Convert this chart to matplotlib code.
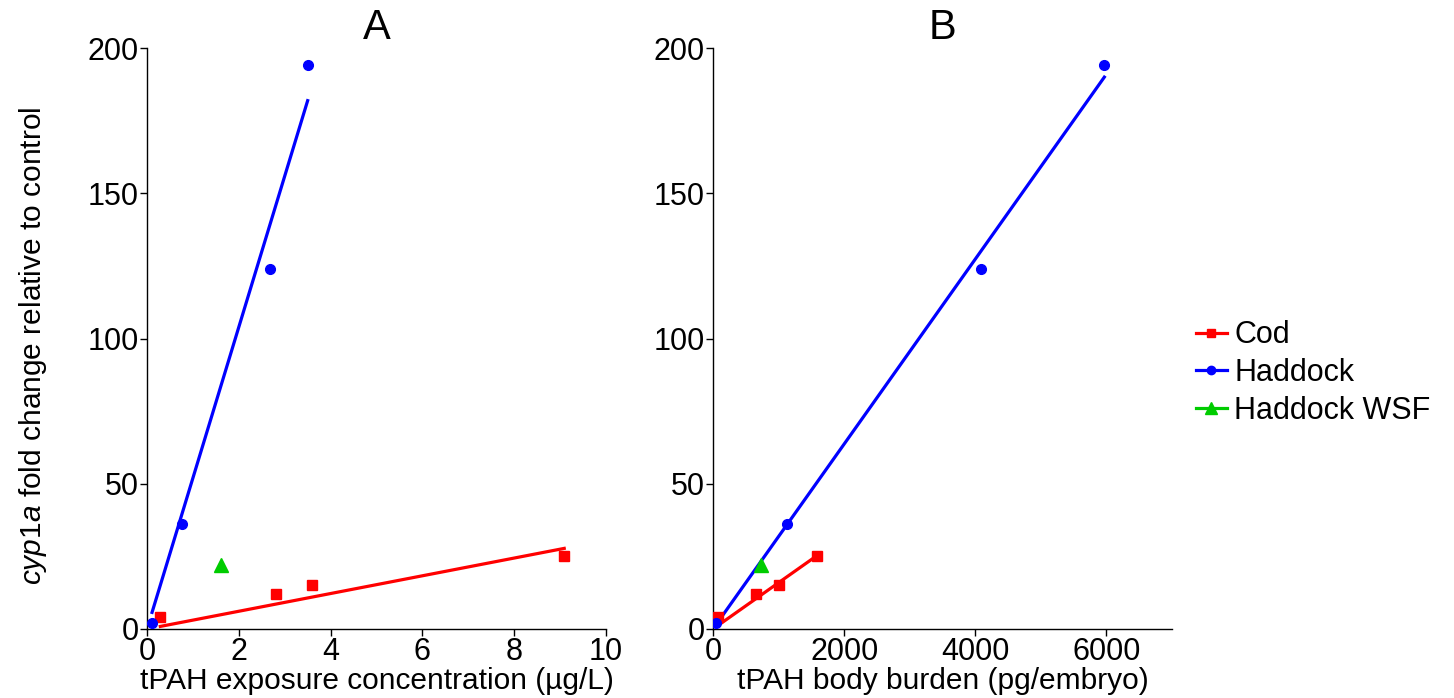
import numpy as np
import matplotlib
matplotlib.use("Agg")
import matplotlib.pyplot as plt
from matplotlib.lines import Line2D

plt.rcParams['font.family'] = ['Liberation Sans', 'DejaVu Sans']
plt.rcParams['mathtext.fontset'] = 'custom'
plt.rcParams['mathtext.rm'] = 'Liberation Sans'
plt.rcParams['mathtext.it'] = 'Liberation Sans:italic'

# Panel A: exposure concentration (ug/L)
cod_conc = [0.29, 2.8, 3.6, 9.09]
cod_fold = [4, 12, 15, 25]
had_conc = [0.11, 0.76, 2.67, 3.5]
had_fold = [2, 36, 124, 194]
wsf_conc = [1.61]
wsf_fold = [22]

# Panel B: body burden (pg/embryo)
cod_burden = [76, 649, 1003, 1581]
had_burden = [40, 1125, 4082, 5968]
wsf_burden = [725]

series_labels = ['Cod', 'Haddock', 'Haddock WSF']

fig = plt.figure(figsize=(14.54, 6.98), dpi=100)
axA = fig.add_axes([147/1454, 1-629/698, (606-147)/1454, (629-48)/698])
axB = fig.add_axes([713/1454, 1-629/698, (1172-713)/1454, (629-48)/698])

RED = '#ff0000'
BLUE = '#0000ff'
GREEN = '#00cc00'

def fit_origin(x, y):
    x = np.asarray(x, float); y = np.asarray(y, float)
    k = (x * y).sum() / (x * x).sum()
    xs = np.array([x.min(), x.max()])
    return xs, k * xs

def panel(ax, cx, cy, hx, hy, wx, wy):
    xs, ys = fit_origin(cx, cy)
    ax.plot(xs, ys, color=RED, lw=2.3, zorder=2)
    xs, ys = fit_origin(hx, hy)
    ax.plot(xs, ys, color=BLUE, lw=2.3, zorder=2)
    ax.plot(cx, cy, 's', color=RED, ms=7.5, zorder=3)
    ax.plot(hx, hy, 'o', color=BLUE, ms=7, zorder=4)
    ax.plot(wx, wy, '^', color=GREEN, ms=10.5, zorder=3)
    ax.set_ylim(0, 200)
    ax.set_yticks([0, 50, 100, 150, 200])
    for s in ['top', 'right']:
        ax.spines[s].set_visible(False)
    for s in ['left', 'bottom']:
        ax.spines[s].set_linewidth(1.0)
    ax.tick_params(labelsize=22, length=5, width=1.0, direction='out', pad=1)

panel(axA, cod_conc, cod_fold, had_conc, had_fold, wsf_conc, wsf_fold)
axA.set_xlim(0, 10)
axA.set_xticks([0, 2, 4, 6, 8, 10])
axA.set_xlabel('tPAH exposure concentration (µg/L)', fontsize=21.5, labelpad=0)
axA.set_ylabel('$\\mathit{cyp1a}$ fold change relative to control', fontsize=21.5)
axA.yaxis.set_label_coords(-0.213, 0.488)
axA.set_title('A', fontsize=30, pad=2)

panel(axB, cod_burden, cod_fold, had_burden, had_fold, wsf_burden, wsf_fold)
axB.set_xlim(0, 7000)
axB.set_xticks([0, 2000, 4000, 6000])
axB.set_xlabel('tPAH body burden (pg/embryo)', fontsize=21.5, labelpad=0)
axB.set_title('B', fontsize=30, pad=2)

handles = [Line2D([], [], color=RED, lw=2.3, marker='s', ms=6),
           Line2D([], [], color=BLUE, lw=2.3, marker='o', ms=6),
           Line2D([], [], color=GREEN, lw=2.3, marker='^', ms=8)]
fig.legend(handles, series_labels, loc='center left',
           bbox_to_anchor=(1196/1454, 1-373/698), frameon=False, fontsize=22,
           handlelength=1.0, handletextpad=0.25, labelspacing=0.25,
           borderpad=0, borderaxespad=0)

fig.savefig('out.png', dpi=100)
